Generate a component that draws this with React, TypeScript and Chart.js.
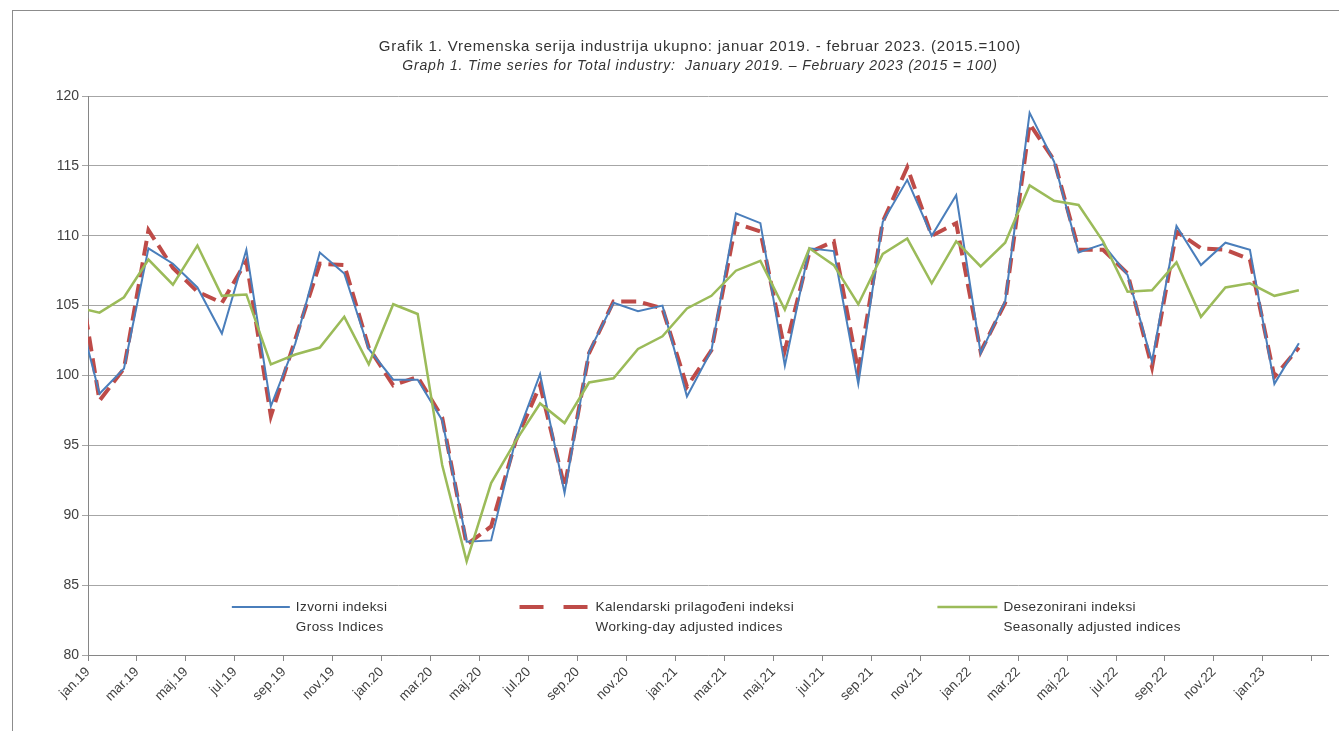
import React, { useEffect, useRef } from "react";
import { Chart, registerables } from "chart.js";

Chart.register(...registerables);

// ---------- DATA ----------
// first entry (dec.18) lies just left of the plotted window; its segment is clipped
const months: string[] = [
  "dec.18",
  "jan.19", "feb.19", "mar.19", "apr.19", "maj.19", "jun.19", "jul.19", "avg.19", "sep.19", "okt.19", "nov.19", "dec.19",
  "jan.20", "feb.20", "mar.20", "apr.20", "maj.20", "jun.20", "jul.20", "avg.20", "sep.20", "okt.20", "nov.20", "dec.20",
  "jan.21", "feb.21", "mar.21", "apr.21", "maj.21", "jun.21", "jul.21", "avg.21", "sep.21", "okt.21", "nov.21", "dec.21",
  "jan.22", "feb.22", "mar.22", "apr.22", "maj.22", "jun.22", "jul.22", "avg.22", "sep.22", "okt.22", "nov.22", "dec.22",
  "jan.23", "feb.23",
];

const grossIndices: number[] = [
  105.5,
  98.7, 100.5, 109.1, 108.0, 106.3, 103.0, 109.0, 97.8, 102.3, 108.8, 107.3, 101.9,
  99.7, 99.7, 96.8, 88.1, 88.2, 95.4, 100.1, 91.6, 101.7, 105.2, 104.6, 105.0,
  98.5, 101.8, 111.6, 110.9, 100.7, 109.1, 108.9, 99.4, 111.0, 114.0, 110.0, 112.9,
  101.6, 105.3, 118.8, 115.3, 108.8, 109.4, 107.2, 101.0, 110.7, 107.9, 109.5, 109.0,
  99.4, 102.3,
];

const workingDayAdjusted: number[] = [
  109.0,
  98.2, 100.5, 110.4, 107.7, 106.0, 105.2, 108.2, 97.1, 102.6, 108.0, 107.9, 102.0,
  99.3, 99.9, 97.0, 87.9, 89.2, 95.3, 99.3, 92.0, 101.6, 105.3, 105.3, 104.8,
  99.2, 101.8, 110.9, 110.3, 101.8, 108.8, 109.6, 100.3, 111.0, 114.9, 110.0, 110.9,
  101.7, 105.2, 118.0, 115.4, 109.0, 109.0, 107.3, 100.6, 110.3, 109.1, 109.0, 108.3,
  99.9, 102.0,
];

const seasonallyAdjusted: number[] = [
  104.9,
  104.5, 105.6, 108.3, 106.5, 109.3, 105.7, 105.8, 100.8, 101.5, 102.0, 104.2, 100.8,
  105.1, 104.4, 93.6, 86.7, 92.3, 95.3, 98.0, 96.6, 99.5, 99.8, 101.9, 102.8,
  104.8, 105.7, 107.5, 108.2, 104.7, 109.1, 107.9, 105.1, 108.7, 109.8, 106.6, 109.6,
  107.8, 109.5, 113.6, 112.5, 112.2, 109.6, 106.0, 106.1, 108.1, 104.2, 106.3, 106.6,
  105.7, 106.1,
];

const yMin = 80;
const yMax = 120;
const yStep = 5;

const titleLine1 =
  "Grafik 1. Vremenska serija industrija ukupno: januar 2019. - februar 2023. (2015.=100)";
const titleLine2 =
  "Graph 1. Time series for Total industry:  January 2019. – February 2023 (2015 = 100)";

const grossName = ["Izvorni indeksi", "Gross Indices"];
const workingDayName = ["Kalendarski prilagođeni indeksi", "Working-day adjusted indices"];
const seasonalName = ["Desezonirani indeksi", "Seasonally adjusted indices"];

// ---------- LAYOUT / STYLE ----------
const FONT = "'Liberation Sans', Arial, Helvetica, sans-serif";
const X_MIN = 0.53; // axis start (month index units)
const X_MAX = 51.19; // axis end
const TICK_COUNT = 26;
const legendX = [0.116, 0.348, 0.685]; // fraction of plot width
const legendSampleW = [58, 70, 60];

const twoLineLegend = {
  id: "twoLineLegend",
  afterDraw(chart: any) {
    const { ctx, chartArea } = chart;
    const w = chartArea.right - chartArea.left;
    const y1 = chartArea.bottom - 48;
    chart.data.datasets.forEach((ds: any, i: number) => {
      const x0 = chartArea.left + legendX[i] * w;
      const sw = legendSampleW[i];
      ctx.save();
      ctx.strokeStyle = ds.borderColor;
      ctx.lineWidth = ds.borderWidth;
      ctx.lineCap = "butt";
      ctx.setLineDash(ds.legendDash || []);
      ctx.beginPath();
      ctx.moveTo(x0, y1);
      ctx.lineTo(x0 + sw, y1);
      ctx.stroke();
      ctx.setLineDash([]);
      ctx.fillStyle = "#333333";
      ctx.font = `13.5px ${FONT}`;
      try { (ctx as any).letterSpacing = "0.4px"; } catch (e) {}
      ctx.textAlign = "left";
      ctx.textBaseline = "middle";
      (ds.legendLines as string[]).forEach((t, k) => {
        ctx.fillText(t, x0 + sw + 6, y1 + k * 20);
      });
      ctx.restore();
    });
  },
};

const titlePlugin = {
  id: "twoLineTitle",
  afterDraw(chart: any) {
    const { ctx, chartArea } = chart;
    const cx = (chartArea.left + chartArea.right) / 2 - 8;
    ctx.save();
    ctx.fillStyle = "#333333";
    ctx.textAlign = "center";
    ctx.textBaseline = "middle";
    try { (ctx as any).letterSpacing = "0.8px"; } catch (e) {}
    ctx.font = `15px ${FONT}`;
    ctx.fillText(titleLine1, cx, 36);
    try { (ctx as any).letterSpacing = "0.8px"; } catch (e) {}
    ctx.font = `italic 14px ${FONT}`;
    ctx.fillText(titleLine2, cx, 55);
    ctx.restore();
  },
};

function toPoints(values: number[]) {
  return values.map((v, i) => ({ x: i, y: v }));
}

export default function App() {
  const ref = useRef<HTMLCanvasElement | null>(null);

  useEffect(() => {
    if (!ref.current) return;
    Chart.defaults.font.family = FONT;
    const chart = new Chart(ref.current, {
      type: "line",
      data: {
        datasets: [
          {
            label: grossName.join(" / "),
            data: toPoints(grossIndices),
            borderColor: "#4A7EBB",
            backgroundColor: "#4A7EBB",
            borderWidth: 2,
            pointRadius: 0,
            tension: 0,
            clip: 0,
            order: 1,
            legendLines: grossName,
          } as any,
          {
            label: workingDayName.join(" / "),
            data: toPoints(workingDayAdjusted),
            borderColor: "#BE4B48",
            backgroundColor: "#BE4B48",
            borderWidth: 4,
            borderDash: [15, 7],
            pointRadius: 0,
            tension: 0,
            clip: 0,
            order: 2,
            legendLines: workingDayName,
            legendDash: [24, 20],
          } as any,
          {
            label: seasonalName.join(" / "),
            data: toPoints(seasonallyAdjusted),
            borderColor: "#9BBB59",
            backgroundColor: "#9BBB59",
            borderWidth: 2.5,
            pointRadius: 0,
            tension: 0,
            clip: 0,
            order: 0,
            legendLines: seasonalName,
          } as any,
        ],
      },
      options: {
        responsive: false,
        animation: false,
        events: [],
        layout: { padding: { top: 85, right: 11, left: 0, bottom: 0 } },
        plugins: {
          legend: { display: false },
          tooltip: { enabled: false },
          title: { display: false },
        },
        scales: {
          x: {
            type: "linear",
            min: X_MIN,
            max: X_MAX,
            afterBuildTicks: (axis: any) => {
              axis.ticks = Array.from({ length: TICK_COUNT }, (_, k) => ({ value: X_MIN + 2 * k }));
            },
            afterFit: (axis: any) => {
              axis.height = 76;
            },
            grid: {
              display: true,
              drawOnChartArea: false,
              drawTicks: true,
              tickLength: 6,
              color: "#868686",
            },
            border: { display: true, color: "#868686", width: 1 },
            ticks: {
              autoSkip: false,
              maxRotation: 45,
              minRotation: 45,
              padding: 3,
              color: "#404040",
              font: { size: 13.5 },
              callback: (_v: any, index: number) => {
                const i = 1 + 2 * index;
                return i < months.length ? months[i] : "";
              },
            },
          },
          y: {
            min: yMin,
            max: yMax,
            afterFit: (axis: any) => {
              axis.width = 75;
            },
            grid: {
              color: "#a6a6a6",
              lineWidth: 1,
              drawTicks: true,
              tickLength: 6,
            },
            border: { display: true, color: "#868686", width: 1 },
            ticks: {
              stepSize: yStep,
              padding: 3,
              color: "#404040",
              font: { size: 14 },
            },
          },
        },
      } as any,
      plugins: [twoLineLegend, titlePlugin],
    });
    return () => chart.destroy();
  }, []);

  return (
    <div
      style={{
        position: "fixed",
        left: 12,
        top: 10,
        width: 1327,
        height: 721,
        borderTop: "1px solid #8c8c8c",
        borderLeft: "1px solid #8c8c8c",
        boxSizing: "border-box",
        background: "#ffffff",
      }}
    >
      <canvas ref={ref} width={1326} height={720} style={{ display: "block" }} />
    </div>
  );
}
